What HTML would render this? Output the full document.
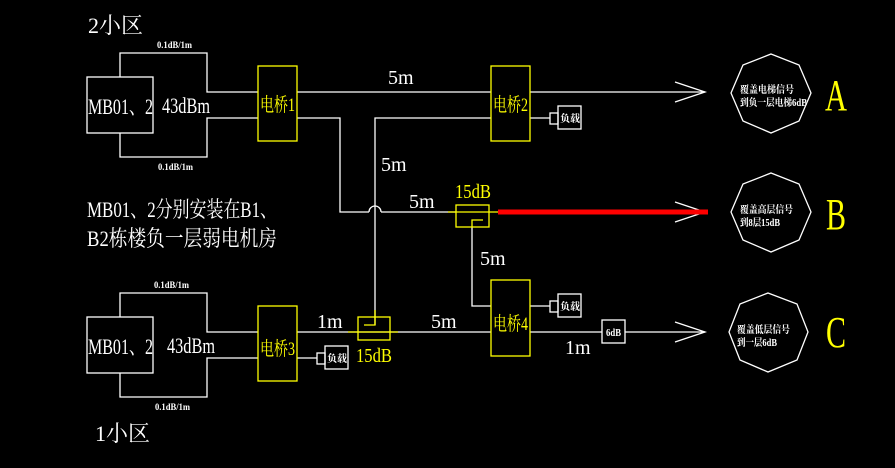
<!DOCTYPE html>
<html><head><meta charset="utf-8"><style>
html,body{margin:0;padding:0;background:#000;width:895px;height:468px;overflow:hidden}
svg{display:block}
text{font-family:"Liberation Serif","Noto Serif CJK SC","Noto Sans CJK SC",serif}
</style></head><body>
<svg width="895" height="468" viewBox="0 0 895 468" xmlns="http://www.w3.org/2000/svg">
<rect width="895" height="468" fill="#000"/>
<g fill="none" stroke="#fff" stroke-width="1.3">
<rect x="87" y="77" width="66" height="56"/>
<polyline points="120,77 120,53 207,53 207,92 258,92"/>
<polyline points="120,133 120,157 207,157 207,118 258,118"/>
<line x1="297" y1="92" x2="491" y2="92"/>
<polyline points="297,118 340,118 340,212 369,212"/>
<path d="M369,212 A6,6 0 0 1 381,212"/>
<line x1="381" y1="212" x2="456" y2="212"/>
<polyline points="375,325 375,118 491,118"/>
<line x1="530" y1="92" x2="705" y2="92"/>
<polyline points="675,82 705,92 675,102"/>
<line x1="530" y1="118" x2="550" y2="118"/>
<rect x="550" y="113" width="8" height="11"/>
<rect x="558" y="106" width="23" height="23"/>
<polyline points="472,227 472,306 491,306"/>
<polyline points="675,202 705,212 675,222"/>
<rect x="87" y="317" width="66" height="56"/>
<polyline points="120,317 120,293 207,293 207,332 258,332"/>
<polyline points="120,373 120,397 207,397 207,358 258,358"/>
<line x1="297" y1="332" x2="491" y2="332"/>
<line x1="297" y1="358" x2="317" y2="358"/>
<rect x="317" y="353" width="8" height="11"/>
<rect x="325" y="346" width="23" height="23"/>
<line x1="530" y1="306" x2="550" y2="306"/>
<rect x="550" y="301" width="8" height="11"/>
<rect x="558" y="294" width="23" height="23"/>
<line x1="530" y1="332" x2="705" y2="332"/>
<rect x="602" y="320" width="23" height="23" fill="#000"/>
<polyline points="675,322 705,332 675,342"/>
<polygon points="771,54 799,65 811,93 799,121 771,133 743,121 731,93 743,65"/>
<polygon points="771,173 799,184 811,212 799,240 771,252 743,240 731,212 743,184"/>
<polygon points="768,293 797,304 808,332 797,360 768,372 740,360 729,332 740,304"/>
</g>
<line x1="498" y1="212" x2="708" y2="212" stroke="#f00" stroke-width="5"/>
<g fill="none" stroke="#ff0" stroke-width="1.3">
<rect x="258" y="66" width="39" height="75"/>
<rect x="491" y="66" width="39" height="75"/>
<rect x="258" y="306" width="39" height="75"/>
<rect x="491" y="280" width="39" height="76"/>
<rect x="456" y="205" width="33" height="22"/>
<line x1="448" y1="212" x2="498" y2="212"/>
<polyline points="483,220 472,220 472,227"/>
<rect x="358" y="317" width="32" height="23"/>
<line x1="348" y1="332" x2="398" y2="332"/>
<polyline points="364,325 375,325 375,310"/>
</g>
<g fill="#fff">
<text x="88" y="33" font-size="22">2小区</text>
<text x="95" y="441" font-size="22">1小区</text>
<text x="88" y="114" font-size="22" textLength="65" lengthAdjust="spacingAndGlyphs">MB01、2</text>
<text x="162" y="113" font-size="22" textLength="48" lengthAdjust="spacingAndGlyphs">43dBm</text>
<text x="88" y="354" font-size="22" textLength="65" lengthAdjust="spacingAndGlyphs">MB01、2</text>
<text x="167" y="353" font-size="22" textLength="48" lengthAdjust="spacingAndGlyphs">43dBm</text>
<text x="157" y="48" font-size="9" font-weight="bold" textLength="35" lengthAdjust="spacingAndGlyphs">0.1dB/1m</text>
<text x="158" y="170" font-size="9" font-weight="bold" textLength="35" lengthAdjust="spacingAndGlyphs">0.1dB/1m</text>
<text x="154" y="288" font-size="9" font-weight="bold" textLength="35" lengthAdjust="spacingAndGlyphs">0.1dB/1m</text>
<text x="155" y="410" font-size="9" font-weight="bold" textLength="35" lengthAdjust="spacingAndGlyphs">0.1dB/1m</text>
<text x="87" y="217" font-size="22" textLength="190" lengthAdjust="spacingAndGlyphs">MB01、2分别安装在B1、</text>
<text x="87" y="246" font-size="22" textLength="190" lengthAdjust="spacingAndGlyphs">B2栋楼负一层弱电机房</text>
<text x="388" y="84" font-size="20">5m</text>
<text x="381" y="171" font-size="20">5m</text>
<text x="409" y="208" font-size="20">5m</text>
<text x="480" y="265" font-size="20">5m</text>
<text x="317" y="328" font-size="20">1m</text>
<text x="431" y="328" font-size="20">5m</text>
<text x="565" y="354" font-size="20">1m</text>
<text x="560" y="122" font-size="10" font-weight="bold" textLength="20" lengthAdjust="spacingAndGlyphs">负载</text>
<text x="560" y="310" font-size="10" font-weight="bold" textLength="20" lengthAdjust="spacingAndGlyphs">负载</text>
<text x="327" y="362" font-size="10" font-weight="bold" textLength="20" lengthAdjust="spacingAndGlyphs">负载</text>
<text x="606" y="336" font-size="10" font-weight="bold" textLength="15" lengthAdjust="spacingAndGlyphs">6dB</text>
<g font-weight="bold">
<text x="740" y="93" font-size="10" textLength="54" lengthAdjust="spacingAndGlyphs">覆盖电梯信号</text>
<text x="740" y="106" font-size="10" textLength="67" lengthAdjust="spacingAndGlyphs">到负一层电梯6dB</text>
<text x="740" y="213" font-size="10" textLength="53" lengthAdjust="spacingAndGlyphs">覆盖高层信号</text>
<text x="740" y="226" font-size="10" textLength="40" lengthAdjust="spacingAndGlyphs">到8层15dB</text>
<text x="737" y="333" font-size="10" textLength="53" lengthAdjust="spacingAndGlyphs">覆盖低层信号</text>
<text x="737" y="346" font-size="10" textLength="40" lengthAdjust="spacingAndGlyphs">到一层6dB</text>
</g>
</g>
<g fill="#ff0">
<text x="260" y="111" font-size="19" textLength="35" lengthAdjust="spacingAndGlyphs">电桥1</text>
<text x="493" y="111" font-size="19" textLength="35" lengthAdjust="spacingAndGlyphs">电桥2</text>
<text x="260" y="355" font-size="19" textLength="35" lengthAdjust="spacingAndGlyphs">电桥3</text>
<text x="493" y="330" font-size="19" textLength="35" lengthAdjust="spacingAndGlyphs">电桥4</text>
<text x="455" y="198" font-size="20" textLength="36" lengthAdjust="spacingAndGlyphs">15dB</text>
<text x="356" y="362" font-size="20" textLength="36" lengthAdjust="spacingAndGlyphs">15dB</text>
<text x="825" y="110" font-size="44" textLength="22" lengthAdjust="spacingAndGlyphs">A</text>
<text x="826" y="229" font-size="44" textLength="20" lengthAdjust="spacingAndGlyphs">B</text>
<text x="826" y="347" font-size="44" textLength="20" lengthAdjust="spacingAndGlyphs">C</text>
</g>
</svg>
</body></html>
